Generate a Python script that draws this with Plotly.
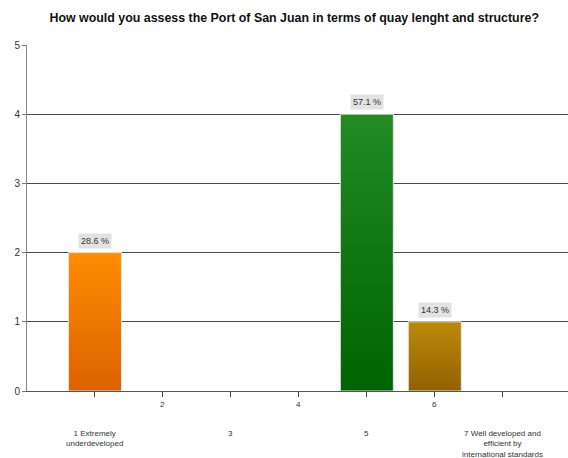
import plotly.graph_objects as go

# Survey answers on a 1-7 scale: respondent counts and share of respondents
categories = [1, 2, 3, 4, 5, 6, 7]
category_labels = [
    "1 Extremely<br>underdeveloped",
    "2",
    "3",
    "4",
    "5",
    "6",
    "7 Well developed and<br>efficient by<br>international standards",
]
counts = [2, 0, 0, 0, 4, 1, 0]
percent_labels = ["28.6 %", "", "", "", "57.1 %", "14.3 %", ""]

# top / bottom colours of each bar's vertical gradient
bar_colors = {
    1: ("#ff8c00", "#dc6200"),
    5: ("#228b22", "#006400"),
    6: ("#bb8a0b", "#946000"),
}

bar_width = 0.78

fig = go.Figure()

for cat, val, lab in zip(categories, counts, percent_labels):
    if val <= 0:
        continue
    top, bottom = bar_colors[cat]
    x0, x1 = cat - bar_width / 2, cat + bar_width / 2
    fig.add_trace(go.Scatter(
        x=[x0, x1, x1, x0, x0],
        y=[0, 0, val, val, 0],
        mode="lines",
        fill="toself",
        fillgradient=dict(type="vertical", colorscale=[[0, bottom], [1, top]]),
        line=dict(color="#e6e6e6", width=1),
        hoverinfo="skip",
        showlegend=False,
    ))
    fig.add_annotation(
        x=cat, y=val, xref="x", yref="y",
        text=lab, showarrow=False,
        yanchor="bottom", yshift=4,
        bgcolor="#e2e2e2", borderpad=2,
        font=dict(family="Liberation Sans, Arial", size=9, color="#333333"),
    )

# two-row category labels under the axis (even categories on the upper row)
for cat, lab in zip(categories, category_labels):
    fig.add_annotation(
        x=cat, y=0, xref="x", yref="paper",
        text=lab, showarrow=False,
        yanchor="top", yshift=-7 if cat % 2 == 0 else -36,
        font=dict(family="Liberation Sans, Arial", size=8, color="#333333"),
    )

fig.update_layout(
    width=568, height=458,
    margin=dict(l=27, r=0, t=45, b=67),
    paper_bgcolor="white",
    plot_bgcolor="white",
    title=dict(
        text="<b>How would you assess the Port of San Juan in terms of quay lenght and structure?</b>",
        x=0.518, xanchor="center", y=0.962, yanchor="middle",
        font=dict(family="Liberation Sans, Arial", size=12.4, color="#111111"),
    ),
    xaxis=dict(
        range=[0, 7.96],
        tickvals=categories,
        ticktext=[""] * len(categories),
        ticks="outside", ticklen=5, tickcolor="#444444",
        showgrid=False, zeroline=False,
        showline=True, linecolor="#555555", linewidth=1,
    ),
    yaxis=dict(
        range=[0, 5],
        tickvals=[0, 1, 2, 3, 4, 5],
        ticks="outside", ticklen=4, tickcolor="#777777",
        showgrid=True, gridcolor="#4a4a4a", gridwidth=1,
        zeroline=False,
        showline=True, linecolor="#888888", linewidth=1,
        tickfont=dict(family="Liberation Sans, Arial", size=10, color="#333333"),
    ),
)

fig.write_html("out.html")
